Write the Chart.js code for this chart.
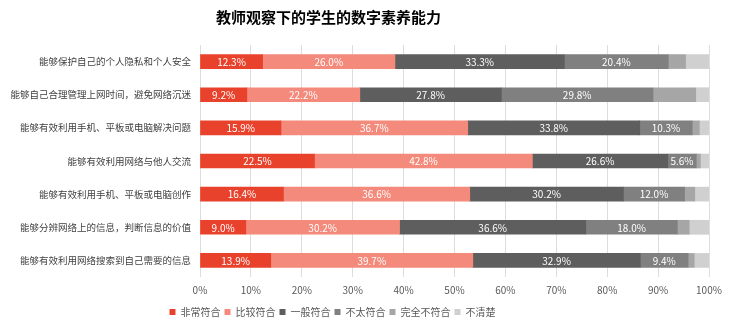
<!DOCTYPE html>
<html>
<head>
<meta charset="utf-8">
<script src="https://cdn.jsdelivr.net/npm/chart.js@4"></script>
<style>
  html, body { margin: 0; padding: 0; background: #fff; }
  #wrap { width: 734px; height: 329px; }
</style>
</head>
<body>
<div id="wrap"><canvas id="chart"></canvas></div>
<script>
// categories (top to bottom)
const categories = [
    "能够保护自己的个人隐私和个人安全",
    "能够自己合理管理上网时间，避免网络沉迷",
    "能够有效利用手机、平板或电脑解决问题",
    "能够有效利用网络与他人交流",
    "能够有效利用手机、平板或电脑创作",
    "能够分辨网络上的信息，判断信息的价值",
    "能够有效利用网络搜索到自己需要的信息"
]
const seriesNames = ["非常符合", "比较符合", "一般符合", "不太符合", "完全不符合", "不清楚"]

// values in % (last two series estimated)
const veryMuch = [12.3, 9.2, 15.9, 22.5, 16.4, 9.0, 13.9]
const fairly = [26.0, 22.2, 36.7, 42.8, 36.6, 30.2, 39.7]
const neutral = [33.3, 27.8, 33.8, 26.6, 30.2, 36.6, 32.9]
const notReally = [20.4, 29.8, 10.3, 5.6, 12.0, 18.0, 9.4]
const notAtAll = [3.4, 8.4, 1.4, 0.8, 2.0, 2.3, 1.2]
const unclear = [4.6, 2.6, 1.9, 1.7, 2.8, 3.9, 2.9]

const xTicks = [0, 10, 20, 30, 40, 50, 60, 70, 80, 90, 100]

const colors = ["#E8422C", "#F38A7B", "#5E5E5E", "#808080", "#A6A6A6", "#D0D0D0"]
const allValues = [veryMuch, fairly, neutral, notReally, notAtAll, unclear]

const FONT = "'Noto Sans CJK SC', 'Noto Sans', sans-serif"
Chart.defaults.font.family = FONT
Chart.defaults.animation = false

// white value labels inside the first four segments
const barLabels = {
    id: 'barLabels',
    afterDatasetsDraw(chart) {
        const ctx = chart.ctx
        ctx.save()
        ctx.fillStyle = "#fff"
        ctx.font = "10px " + FONT
        ctx.textAlign = "center"
        ctx.textBaseline = "middle"
        chart.data.datasets.forEach((ds, i) => {
            if (i > 3) return
            chart.getDatasetMeta(i).data.forEach((bar, j) => {
                ctx.fillText(ds.data[j].toFixed(1) + "%", (bar.x + bar.base) / 2, bar.y + 0.5)
            })
        })
        ctx.restore()
    }
}

// title and legend sit a bit left of the canvas centre in the original
const shiftBoxes = {
    id: 'shiftBoxes',
    afterLayout(chart) {
        chart.titleBlock.left -= 26
        chart.titleBlock.right -= 26
        chart.legend.left -= 22
        chart.legend.right -= 22
    }
}

const datasets = seriesNames.map((name, i) => ({
    label: name,
    data: allValues[i],
    backgroundColor: colors[i],
    borderWidth: 0,
    barThickness: 14
}))

new Chart(document.getElementById("chart"), {
    type: 'bar',
    data: { labels: categories, datasets: datasets },
    plugins: [barLabels, shiftBoxes],
    options: {
        indexAxis: 'y',
        responsive: true,
        maintainAspectRatio: false,
        layout: { padding: { top: 0, right: 25, bottom: 2, left: 0 } },
        scales: {
            x: {
                stacked: true,
                min: 0,
                max: 100,
                afterBuildTicks: function(scale) {
                    scale.ticks = xTicks.map(v => ({ value: v }))
                },
                ticks: {
                    color: "#595959",
                    font: { size: 10 },
                    padding: 7,
                    callback: v => v + "%"
                },
                grid: { color: "#DDDDDD", drawTicks: false },
                border: { display: false }
            },
            y: {
                stacked: true,
                afterFit: function(scale) { scale.width = 200 },
                ticks: { color: "#404040", font: { size: 9.5 }, padding: 1 },
                grid: { display: false },
                border: { display: false }
            }
        },
        plugins: {
            title: {
                display: true,
                text: "教师观察下的学生的数字素养能力",
                color: "#000",
                font: { size: 15, weight: 'bold' },
                padding: { top: 8, bottom: 19 }
            },
            legend: {
                position: 'bottom',
                labels: {
                    color: "#595959",
                    font: { size: 10 },
                    boxWidth: 6,
                    boxHeight: 6,
                    padding: 4
                }
            },
            tooltip: { enabled: false }
        }
    }
})
</script>
</body>
</html>
